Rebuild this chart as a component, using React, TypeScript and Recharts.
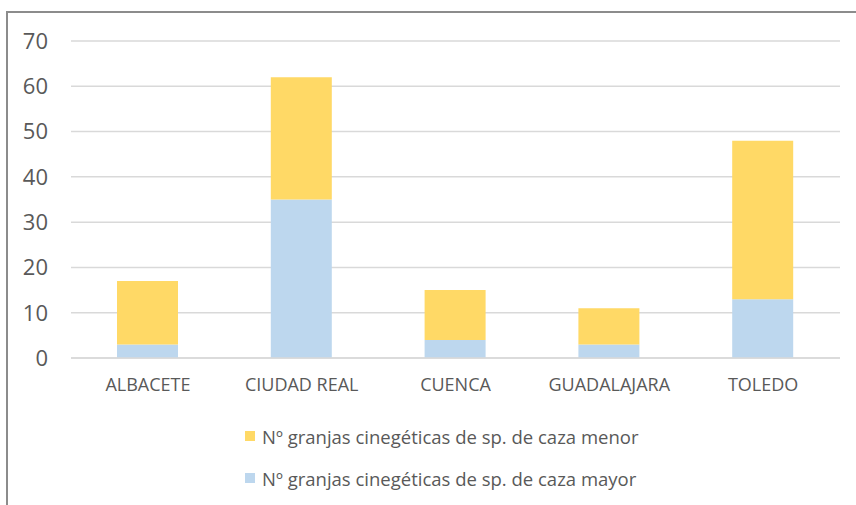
import { BarChart, Bar, XAxis, YAxis, CartesianGrid, Legend } from 'recharts';

// provincias y número de granjas cinegéticas
const provincias = ['ALBACETE', 'CIUDAD REAL', 'CUENCA', 'GUADALAJARA', 'TOLEDO'];
const cazaMayor = [3, 35, 4, 3, 13];
const cazaMenor = [14, 27, 11, 8, 35];
const yTicks = [0, 10, 20, 30, 40, 50, 60, 70];

const NOMBRE_MAYOR = 'Nº granjas cinegéticas de sp. de caza mayor';
const NOMBRE_MENOR = 'Nº granjas cinegéticas de sp. de caza menor';

const AMARILLO = '#FFD966';
const AZUL = '#BDD7EE';
const GRIS_TEXTO = '#595959';
const FUENTE = '"Open Sans", "Liberation Sans", sans-serif';

const data = provincias.map((p, i) => ({
  provincia: p,
  mayor: cazaMayor[i],
  menor: cazaMenor[i],
}));

// leyenda en dos filas, la serie de caza menor arriba
const renderLegend = () => {
  const items = [
    { label: NOMBRE_MENOR, color: AMARILLO },
    { label: NOMBRE_MAYOR, color: AZUL },
  ];
  return (
    <div style={{ fontFamily: FUENTE, fontSize: 18.5, color: GRIS_TEXTO }}>
      {items.map((it) => (
        <div
          key={it.label}
          style={{ display: 'flex', alignItems: 'center', height: 42 }}
        >
          <span
            style={{
              display: 'inline-block',
              width: 10,
              height: 10,
              background: it.color,
              marginRight: 7,
            }}
          />
          <span>{it.label}</span>
        </div>
      ))}
    </div>
  );
};

export default function App() {
  return (
    <div
      style={{
        position: 'fixed',
        left: 0,
        top: 0,
        width: 856,
        height: 505,
        background: '#fff',
        overflow: 'hidden',
      }}
    >
      <div
        style={{
          position: 'absolute',
          left: 6,
          top: 11,
          width: 900,
          height: 600,
          borderLeft: '2px solid #8c8c8c',
          borderTop: '2px solid #8c8c8c',
        }}
      />
      <div style={{ position: 'absolute', left: 0, top: 0 }}>
        <BarChart
          width={856}
          height={505}
          data={data}
          margin={{ top: 41, right: 16, left: 0, bottom: 33 }}
        >
          <CartesianGrid vertical={false} stroke="#d9d9d9" strokeWidth={1.5} />
          <XAxis
            dataKey="provincia"
            height={30}
            tickLine={false}
            axisLine={{ stroke: '#d9d9d9', strokeWidth: 1.5 }}
            tickSize={0}
            tickMargin={20}
            tick={{ fill: GRIS_TEXTO, fontSize: 18, fontFamily: FUENTE }}
          />
          <YAxis
            width={71}
            domain={[0, 70]}
            ticks={yTicks}
            tickLine={false}
            axisLine={false}
            tickSize={0}
            tickMargin={23}
            tick={{ fill: GRIS_TEXTO, fontSize: 22, fontFamily: FUENTE }}
          />
          <Legend
            content={renderLegend}
            wrapperStyle={{ left: 245, top: 415, width: 'auto' }}
          />
          <Bar
            dataKey="mayor"
            name={NOMBRE_MAYOR}
            stackId="a"
            fill={AZUL}
            barSize={61}
            isAnimationActive={false}
          />
          <Bar
            dataKey="menor"
            name={NOMBRE_MENOR}
            stackId="a"
            fill={AMARILLO}
            barSize={61}
            isAnimationActive={false}
          />
        </BarChart>
      </div>
    </div>
  );
}
